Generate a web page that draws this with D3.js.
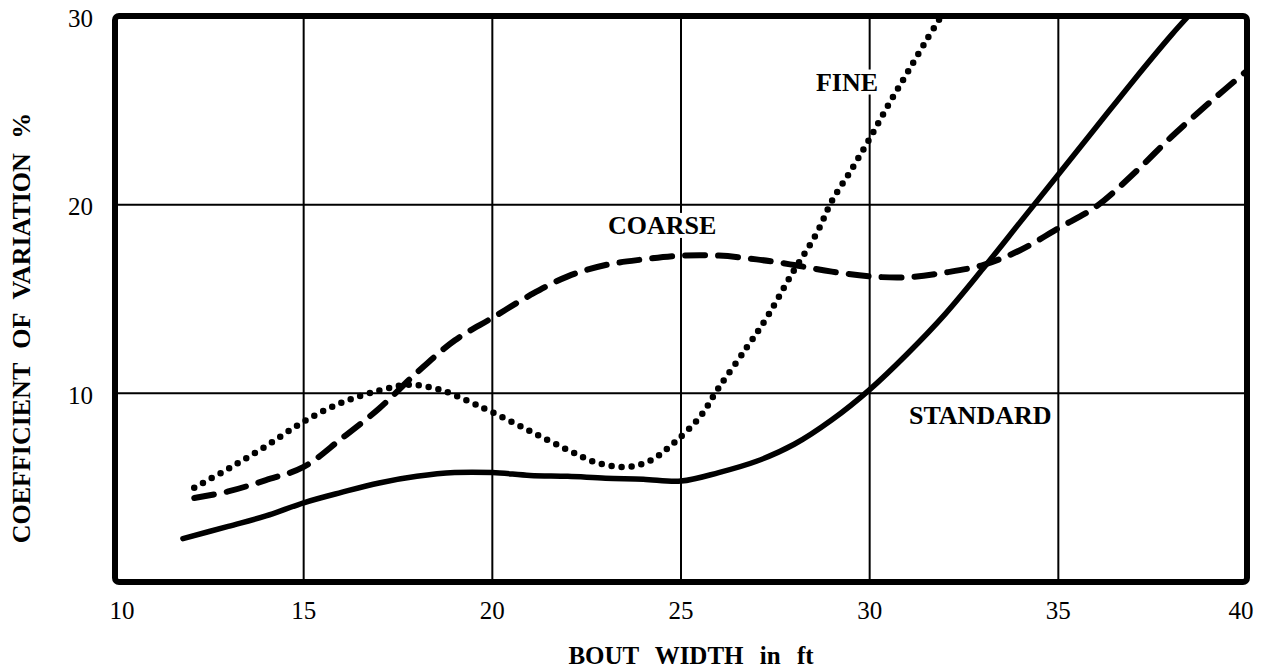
<!DOCTYPE html>
<html>
<head>
<meta charset="utf-8">
<script src="https://cdn.jsdelivr.net/npm/d3@7"></script>
<style>
body { margin: 0; background: #fff; }
svg { display: block; font-family: "Liberation Serif", "DejaVu Serif", serif; }
</style>
</head>
<body>
<svg id="chart" width="1271" height="668"></svg>
<script>

// values
var xTicks = [10, 15, 20, 25, 30, 35, 40];
var yTicks = [10, 20, 30];

var standardX = [11.8, 13.0, 14.0, 15.0, 16.0, 17.0, 18.0, 19.0, 20.0, 21.0, 22.0, 23.0, 24.0, 25.0, 26.0, 27.0, 28.0, 29.0, 30.0, 31.0, 32.0, 33.0, 34.0, 35.0, 36.0, 37.0, 38.0, 38.45];
var standardY = [2.3, 2.95, 3.5, 4.2, 4.75, 5.25, 5.6, 5.8, 5.8, 5.65, 5.6, 5.5, 5.45, 5.35, 5.8, 6.4, 7.3, 8.6, 10.2, 12.1, 14.2, 16.6, 19.1, 21.6, 24.1, 26.6, 29.0, 30.0];

var coarseX = [12.1, 13.0, 14.0, 15.0, 16.0, 17.0, 18.0, 19.0, 20.0, 21.0, 22.0, 23.0, 24.0, 25.0, 26.0, 27.0, 28.0, 29.0, 30.0, 31.0, 32.0, 33.0, 34.0, 35.0, 36.0, 37.0, 38.0, 39.0, 40.0];
var coarseY = [4.45, 4.8, 5.4, 6.1, 7.6, 9.2, 11.1, 12.8, 14.0, 15.2, 16.2, 16.8, 17.1, 17.3, 17.3, 17.1, 16.8, 16.45, 16.2, 16.15, 16.4, 16.8, 17.6, 18.75, 19.9, 21.65, 23.6, 25.4, 27.1];

var fineX = [12.1, 13.0, 14.0, 15.0, 16.0, 17.0, 17.8, 18.6, 19.4, 20.0, 21.0, 22.0, 22.8, 23.6, 24.2, 24.8, 25.5, 26.0, 26.75, 27.3, 27.9, 28.6, 29.0, 29.5, 30.0, 30.5, 31.0, 31.5, 31.9];
var fineY = [5.0, 6.0, 7.2, 8.5, 9.5, 10.15, 10.45, 10.2, 9.55, 9.0, 8.0, 7.0, 6.3, 6.1, 6.45, 7.35, 8.75, 10.3, 12.45, 14.1, 16.2, 18.5, 20.2, 21.8, 23.5, 25.3, 27.0, 28.7, 30.0];

var curveLabels = ["FINE", "COARSE", "STANDARD"];
var labelX = [29.4, 24.5, 32.93];
var labelY = [26.5, 18.9, 8.85];

var svg = d3.select("#chart");

var x = d3.scaleLinear().domain([10, 40]).range([115, 1247]);
var y = d3.scaleLinear().domain([0, 30]).range([582, 16]);

// grid
svg.append("g")
    .selectAll("line")
    .data(xTicks.slice(1, -1))
    .enter().append("line")
    .attr("x1", function(d){ return x(d); })
    .attr("x2", function(d){ return x(d); })
    .attr("y1", y(0))
    .attr("y2", y(30))
    .style("stroke", "#000")
    .style("stroke-width", 2);

svg.append("g")
    .selectAll("line")
    .data(yTicks.slice(0, -1))
    .enter().append("line")
    .attr("x1", x(10))
    .attr("x2", x(40))
    .attr("y1", function(d){ return y(d); })
    .attr("y2", function(d){ return y(d); })
    .style("stroke", "#000")
    .style("stroke-width", 2);

svg.append("clipPath").attr("id", "plotClip")
    .append("rect")
    .attr("x", x(10)).attr("y", y(30))
    .attr("width", x(40) - x(10)).attr("height", y(0) - y(30));

var line = d3.line()
    .x(function(d){ return x(d[0]); })
    .y(function(d){ return y(d[1]); })
    .curve(d3.curveCatmullRom.alpha(0.5));

function drawSeries(xs, ys, dash, width) {
    svg.append("path")
        .attr("d", line(d3.zip(xs, ys)))
        .attr("clip-path", "url(#plotClip)")
        .style("fill", "none")
        .style("stroke", "#000")
        .style("stroke-width", width)
        .style("stroke-linecap", "round")
        .style("stroke-linejoin", "round")
        .style("stroke-dasharray", dash);
}

drawSeries(standardX, standardY, null, 5.5);
drawSeries(coarseX, coarseY, "20 13", 6);
drawSeries(fineX, fineY, "0 10", 6.5);

// curve labels, on white so the grid breaks round them
var lab = svg.append("g")
    .selectAll("g")
    .data(d3.range(curveLabels.length))
    .enter().append("g")
    .attr("transform", function(i){ return "translate(" + x(labelX[i]) + "," + y(labelY[i]) + ")"; });

lab.append("text")
    .attr("text-anchor", "middle")
    .attr("dominant-baseline", "central")
    .style("font-size", "26px")
    .style("font-weight", "bold")
    .text(function(i){ return curveLabels[i]; });

lab.each(function(){
    var g = d3.select(this);
    var b = g.select("text").node().getBBox();
    g.insert("rect", "text")
        .attr("x", b.x - 2).attr("y", b.y + 2)
        .attr("width", b.width + 4).attr("height", b.height - 4)
        .style("fill", "#fff");
});

// frame
svg.append("rect")
    .attr("x", x(10)).attr("y", y(30))
    .attr("width", x(40) - x(10)).attr("height", y(0) - y(30))
    .attr("rx", 4)
    .style("fill", "none")
    .style("stroke", "#000")
    .style("stroke-width", 6);

// tick labels
svg.append("g")
    .selectAll("text")
    .data(xTicks)
    .enter().append("text")
    .attr("x", function(d, i){
        if (i == 0) return x(d) + 7;
        if (i == xTicks.length - 1) return x(d) - 6;
        return x(d);
    })
    .attr("y", 619)
    .attr("text-anchor", "middle")
    .style("font-size", "25px")
    .text(function(d){ return d; });

svg.append("g")
    .selectAll("text")
    .data(yTicks)
    .enter().append("text")
    .attr("x", 93)
    .attr("y", function(d){ return y(d) + 2; })
    .attr("text-anchor", "end")
    .attr("dominant-baseline", "central")
    .style("font-size", "25px")
    .text(function(d){ return d; });

// axis titles
svg.append("text")
    .attr("x", 691)
    .attr("y", 664)
    .attr("text-anchor", "middle")
    .style("font-size", "25px")
    .style("font-weight", "bold")
    .style("word-spacing", "10px")
    .text("BOUT WIDTH in ft");

svg.append("text")
    .attr("transform", "translate(30,328) rotate(-90)")
    .attr("text-anchor", "middle")
    .style("font-size", "26px")
    .style("font-weight", "bold")
    .style("word-spacing", "8px")
    .text("COEFFICIENT OF VARIATION %");

</script>
</body>
</html>
